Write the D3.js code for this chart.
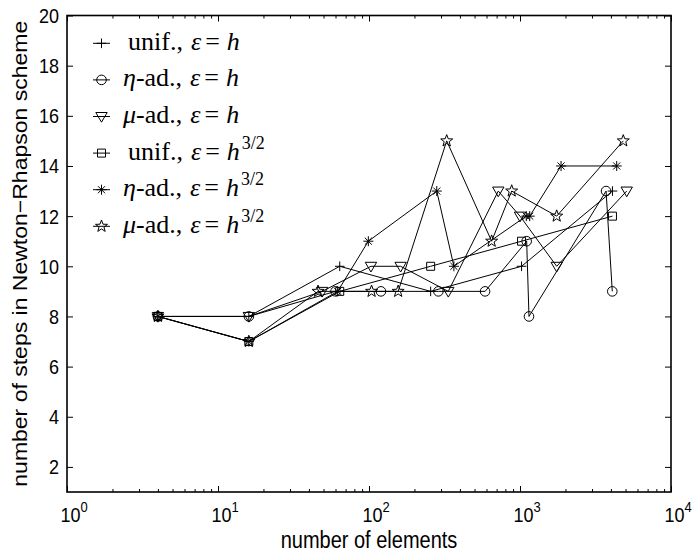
<!DOCTYPE html>
<html>
<head>
<meta charset="utf-8">
<script src="https://cdn.jsdelivr.net/npm/d3@7/dist/d3.min.js"></script>
<style>
  html, body { margin: 0; padding: 0; background: #fff; }
  svg { display: block; }
</style>
</head>
<body>
<svg id="chart" width="692" height="555"></svg>
<script>
// Number of elements (x) and Newton-Rhapson step counts (y) for each refinement strategy
const unifH_n    = [4, 16, 64, 256, 1024, 4096];
const unifH_y    = [8, 8, 10, 9, 10, 13];
const etaH_n     = [4, 16, 60, 120, 288, 587, 1107, 1147, 3715, 4085];
const etaH_y     = [8, 8, 9, 9, 9, 9, 11, 8, 13, 9];
const muH_n      = [4, 16, 49, 103, 162, 335, 718, 1000, 1750, 5090];
const muH_y      = [8, 8, 9, 10, 10, 9, 13, 12, 10, 13];
const unif32_n   = [4, 16, 64, 256, 1024, 4096];
const unif32_y   = [8, 7, 9, 10, 11, 12];
const eta32_n    = [4, 16, 62, 99, 281, 365, 1100, 1160, 1870, 4370];
const eta32_y    = [8, 7, 9, 11, 13, 10, 12, 12, 14, 14];
const mu32_n     = [4, 16, 46, 104, 156, 327, 649, 881, 1750, 4830];
const mu32_y     = [8, 7, 9, 9, 9, 15, 11, 13, 12, 15];

const yTicks = [2, 4, 6, 8, 10, 12, 14, 16, 18, 20];
const xDecades = [0, 1, 2, 3, 4];

// legend entries
const legendItems = [
  {method: "unif.", greek: null, marker: "plus",     exp: null},
  {method: "-ad.",  greek: "η",  marker: "circle",   exp: null},
  {method: "-ad.",  greek: "μ",  marker: "triangle", exp: null},
  {method: "unif.", greek: null, marker: "square",   exp: "3/2"},
  {method: "-ad.",  greek: "η",  marker: "asterisk", exp: "3/2"},
  {method: "-ad.",  greek: "μ",  marker: "star",     exp: "3/2"}
];

const series = [
  {n: unifH_n,  y: unifH_y,  marker: "plus"},
  {n: etaH_n,   y: etaH_y,   marker: "circle"},
  {n: muH_n,    y: muH_y,    marker: "triangle"},
  {n: unif32_n, y: unif32_y, marker: "square"},
  {n: eta32_n,  y: eta32_y,  marker: "asterisk"},
  {n: mu32_n,   y: mu32_y,   marker: "star"}
];

const svg = d3.select("#chart");
const L = 67, R = 671, T = 15.5, B = 492;
const SY = 1.15; // axis text is drawn slightly taller than wide

const x = d3.scaleLog().domain([1, 1e4]).range([L, R]);
const y = d3.scaleLinear().domain([1, 20]).range([B, T]);

// marker shapes, drawn around (0,0)
function markerPath(type) {
  const p = d3.path();
  if (type === "plus") {
    p.moveTo(-4.8, 0); p.lineTo(4.8, 0); p.moveTo(0, -4.8); p.lineTo(0, 4.8);
  } else if (type === "circle") {
    p.moveTo(4.8, 0); p.arc(0, 0, 4.8, 0, 2 * Math.PI);
  } else if (type === "triangle") {
    p.moveTo(-5.7, -4); p.lineTo(5.7, -4); p.lineTo(0, 5.7); p.closePath();
  } else if (type === "square") {
    p.rect(-4, -4, 8, 8);
  } else if (type === "asterisk") {
    const r = 5, d = r * Math.SQRT1_2;
    p.moveTo(-r, 0); p.lineTo(r, 0); p.moveTo(0, -r); p.lineTo(0, r);
    p.moveTo(-d, -d); p.lineTo(d, d); p.moveTo(-d, d); p.lineTo(d, -d);
  } else if (type === "star") {
    const ro = 6.3, ri = 2.6;
    for (let i = 0; i < 10; i++) {
      const a = -Math.PI / 2 + i * Math.PI / 5;
      const rr = i % 2 === 0 ? ro : ri;
      const px = rr * Math.cos(a), py = rr * Math.sin(a);
      if (i === 0) p.moveTo(px, py); else p.lineTo(px, py);
    }
    p.closePath();
  }
  return p.toString();
}

const plot = svg.append("g");

// series lines and markers
const line = d3.line().x(d => x(d[0])).y(d => y(d[1]));
series.forEach(s => {
  const pts = s.n.map((v, i) => [v, s.y[i]]);
  plot.append("path")
    .attr("d", line(pts))
    .attr("fill", "none")
    .attr("stroke", "#000")
    .attr("stroke-width", 1);
  plot.selectAll(null).data(pts).enter().append("path")
    .attr("transform", d => `translate(${x(d[0])},${y(d[1])})`)
    .attr("d", markerPath(s.marker))
    .attr("fill", "none")
    .attr("stroke", "#000")
    .attr("stroke-width", 1);
});

// axes: ticks pointing inward on all four sides
const minorTicks = [];
for (let k = 0; k < 4; k++) for (let m = 2; m <= 9; m++) minorTicks.push(m * Math.pow(10, k));
const majorX = xDecades.map(k => Math.pow(10, k));

const axisBottomMajor = d3.axisBottom(x).tickValues(majorX).tickSize(-6).tickFormat("");
const axisBottomMinor = d3.axisBottom(x).tickValues(minorTicks).tickSize(-3).tickFormat("");
const axisTopMajor = d3.axisTop(x).tickValues(majorX).tickSize(-6).tickFormat("");
const axisTopMinor = d3.axisTop(x).tickValues(minorTicks).tickSize(-3).tickFormat("");
const axisLeft = d3.axisLeft(y).tickValues(yTicks).tickSize(-6).tickFormat("");
const axisRight = d3.axisRight(y).tickValues(yTicks).tickSize(-6).tickFormat("");

function styleAxis(g) {
  g.select(".domain").remove();
  g.selectAll(".tick line").attr("stroke", "#000").attr("stroke-width", 1);
}
svg.append("g").attr("transform", `translate(0,${B})`).call(axisBottomMajor).call(styleAxis);
svg.append("g").attr("transform", `translate(0,${B})`).call(axisBottomMinor).call(styleAxis);
svg.append("g").attr("transform", `translate(0,${T})`).call(axisTopMajor).call(styleAxis);
svg.append("g").attr("transform", `translate(0,${T})`).call(axisTopMinor).call(styleAxis);
svg.append("g").attr("transform", `translate(${L},0)`).call(axisLeft).call(styleAxis);
svg.append("g").attr("transform", `translate(${R},0)`).call(axisRight).call(styleAxis);

// frame
svg.append("rect")
  .attr("x", L).attr("y", T).attr("width", R - L).attr("height", B - T)
  .attr("fill", "none").attr("stroke", "#000").attr("stroke-width", 1.6);

const sansFont = "'Liberation Sans', Arial, Helvetica, sans-serif";

// y tick labels
svg.append("g").selectAll("text").data(yTicks).enter().append("text")
  .attr("transform", d => `translate(${L - 8},${y(d)}) scale(1,${SY})`)
  .attr("dy", "0.36em")
  .attr("text-anchor", "end")
  .attr("font-family", sansFont).attr("font-size", 18)
  .text(d => d);

// x tick labels 10^k
const xl = svg.append("g").selectAll("text").data(xDecades).enter().append("text")
  .attr("transform", d => `translate(${x(Math.pow(10, d)) + 7},${B + 30}) scale(1,${SY})`)
  .attr("text-anchor", "middle")
  .attr("font-family", sansFont).attr("font-size", 18);
xl.append("tspan").text("10");
xl.append("tspan").attr("dy", -9).attr("font-size", 13).text(d => d);

// axis titles
svg.append("text")
  .attr("transform", `translate(${(L + R) / 2},${B + 56}) scale(1,${SY})`)
  .attr("text-anchor", "middle")
  .attr("font-family", sansFont).attr("font-size", 20)
  .text("number of elements");
svg.append("text")
  .attr("transform", `translate(27,${(T + B) / 2}) rotate(-90) scale(${SY},1)`)
  .attr("text-anchor", "middle")
  .attr("font-family", sansFont).attr("font-size", 20)
  .text("number of steps in Newton\u2212Rhapson scheme");

// legend
const serif = "'Liberation Serif', 'Times New Roman', serif";
const lg = svg.append("g");
legendItems.forEach((it, i) => {
  const cy = 43.3 + i * 36.6;
  const g = lg.append("g").attr("transform", `translate(0,${cy})`);
  g.append("line").attr("x1", 93).attr("x2", 110).attr("y1", 0).attr("y2", 0)
    .attr("stroke", "#000").attr("stroke-width", 1);
  g.append("path").attr("transform", "translate(101.5,0)")
    .attr("d", markerPath(it.marker)).attr("fill", "none").attr("stroke", "#000");
  const t = g.append("text")
    .attr("x", it.greek ? 123 : 128).attr("y", 6.5)
    .attr("font-family", serif).attr("font-size", 26);
  if (it.greek) t.append("tspan").attr("font-style", "italic").text(it.greek);
  t.append("tspan").text(it.method + ",");
  t.append("tspan").attr("dx", 8).attr("font-style", "italic").text("ε");
  t.append("tspan").attr("dx", 4).text("=");
  t.append("tspan").attr("dx", 7).attr("font-style", "italic").text("h");
  if (it.exp) t.append("tspan").attr("dx", 2).attr("dy", -11).attr("font-size", 18).text(it.exp);
});
</script>
</body>
</html>
